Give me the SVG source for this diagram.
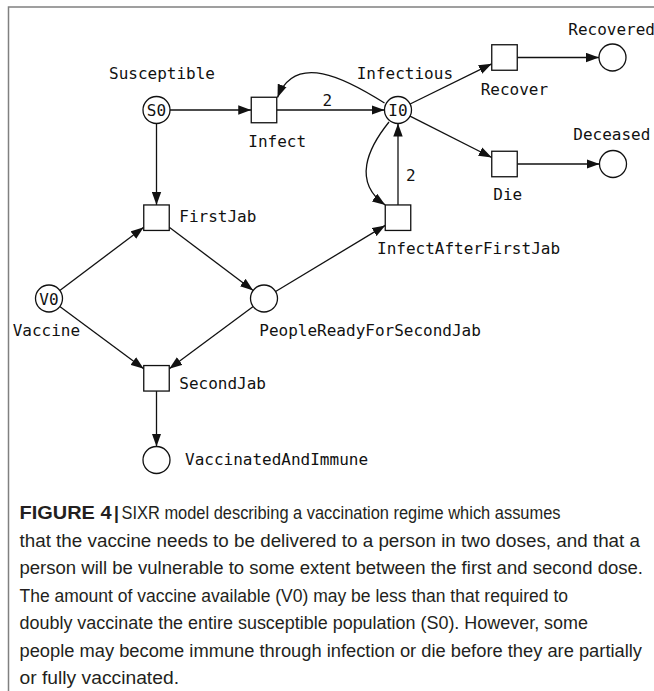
<svg xmlns="http://www.w3.org/2000/svg" width="654" height="691" viewBox="0 0 654 691">
<style>
.lbl{font-family:"DejaVu Sans Mono","Liberation Mono",monospace;font-size:16px;fill:#111}
.tok{font-family:"DejaVu Sans Mono","Liberation Mono",monospace;font-size:16px;fill:#111;text-anchor:middle}
.place{fill:#fff;stroke:#111;stroke-width:1.3}
.trans{fill:#fff;stroke:#111;stroke-width:1.3}
.arc{fill:none;stroke:#111;stroke-width:1.3;marker-end:url(#ah)}
.cap{font-family:"Liberation Sans",Arial,sans-serif;font-size:17.5px;fill:#231f20}
.capb{font-family:"Liberation Sans",Arial,sans-serif;font-size:17.5px;fill:#231f20;font-weight:bold}
</style>
<defs>
<marker id="ah" markerUnits="userSpaceOnUse" markerWidth="13" markerHeight="10" refX="13" refY="5" orient="auto">
<path d="M0,0.3 L13,5 L0,9.7 z" fill="#111"/>
</marker>
</defs>
<rect width="654" height="691" fill="#fff"/>
<path d="M8.5,691 V7 H654" fill="none" stroke="#808080" stroke-width="1.5"/>

<g id="connectors">
<path class="arc" d="M170,110 H251.25"/>
<path class="arc" d="M276.75,110 H384.5"/>
<path class="arc" d="M384.5,103 C345,78 295,52 277.5,97.5"/>
<path class="arc" d="M410.1,104 L491.75,63.8"/>
<path class="arc" d="M410,116.1 L491.75,157.5"/>
<path class="arc" d="M517.25,57.5 H599"/>
<path class="arc" d="M517.25,164 H599.5"/>
<path class="arc" d="M156.5,123.5 V205"/>
<path class="arc" d="M59.8,290.4 L143.75,227.3"/>
<path class="arc" d="M169.25,227.3 L253.2,290.4"/>
<path class="arc" d="M275.6,291.5 L385.25,225.4"/>
<path class="arc" d="M59.8,306.5 L143.75,368.8"/>
<path class="arc" d="M253.2,306.5 L169.25,368.8"/>
<path class="arc" d="M156.5,391.05 V446.5"/>
<path class="arc" d="M398,204.95 V123.5"/>
<path class="arc" d="M389,122 C368,148 352,182 385.25,205"/>
<text class="tok" x="327.3" y="106">2</text>
<text class="tok" x="410.7" y="180.7">2</text>
</g>

<g id="Susceptible">
<circle class="place" cx="156.5" cy="110" r="13.5"/>
<text class="tok" x="156.5" y="116">S0</text>
<text class="lbl" x="109" y="79">Susceptible</text>
</g>
<g id="Infect">
<rect class="trans" x="251.25" y="97.25" width="25.5" height="25.5"/>
<text class="lbl" x="248.3" y="146.7">Infect</text>
</g>
<g id="Infectious">
<circle class="place" cx="398" cy="110" r="13.5"/>
<text class="tok" x="398" y="116">I0</text>
<text class="lbl" x="356.7" y="78.5">Infectious</text>
</g>
<g id="Recover">
<rect class="trans" x="491.75" y="44.75" width="25.5" height="25.5"/>
<text class="lbl" x="480.7" y="95">Recover</text>
</g>
<g id="Recovered">
<circle class="place" cx="612.5" cy="57.5" r="13.5"/>
<text class="lbl" x="568.3" y="35">Recovered</text>
</g>
<g id="Die">
<rect class="trans" x="491.75" y="151.25" width="25.5" height="25.5"/>
<text class="lbl" x="493.3" y="200">Die</text>
</g>
<g id="Deceased">
<circle class="place" cx="613" cy="164" r="13.5"/>
<text class="lbl" x="573.3" y="140">Deceased</text>
</g>
<g id="FirstJab">
<rect class="trans" x="143.75" y="204.95" width="25.5" height="25.5"/>
<text class="lbl" x="179.3" y="221.7">FirstJab</text>
</g>
<g id="InfectAfterFirstJab">
<rect class="trans" x="385.25" y="204.95" width="25.5" height="25.5"/>
<text class="lbl" x="377" y="253.5">InfectAfterFirstJab</text>
</g>
<g id="Vaccine">
<circle class="place" cx="49" cy="298.5" r="13.5"/>
<text class="tok" x="49" y="304.5">V0</text>
<text class="lbl" x="12.7" y="335.7">Vaccine</text>
</g>
<g id="PeopleReadyForSecondJab">
<circle class="place" cx="264" cy="298.5" r="13.5"/>
<text class="lbl" x="259.3" y="336">PeopleReadyForSecondJab</text>
</g>
<g id="SecondJab">
<rect class="trans" x="143.75" y="365.55" width="25.5" height="25.5"/>
<text class="lbl" x="179.3" y="389.3">SecondJab</text>
</g>
<g id="VaccinatedAndImmune">
<circle class="place" cx="156.5" cy="460" r="13.5"/>
<text class="lbl" x="185" y="465">VaccinatedAndImmune</text>
</g>

<g id="caption">
<text class="capb" x="19.5" y="519" textLength="92" lengthAdjust="spacingAndGlyphs">FIGURE 4</text>
<text class="capb" x="114" y="519">|</text>
<text class="cap" x="121.5" y="519" textLength="439" lengthAdjust="spacingAndGlyphs">SIXR model describing a vaccination regime which assumes</text>
<text class="cap" x="19.5" y="546.5" textLength="620.5" lengthAdjust="spacingAndGlyphs">that the vaccine needs to be delivered to a person in two doses, and that a</text>
<text class="cap" x="19.5" y="574" textLength="623.5" lengthAdjust="spacingAndGlyphs">person will be vulnerable to some extent between the first and second dose.</text>
<text class="cap" x="19.5" y="601.5" textLength="548.5" lengthAdjust="spacingAndGlyphs">The amount of vaccine available (V0) may be less than that required to</text>
<text class="cap" x="19.5" y="629" textLength="568.5" lengthAdjust="spacingAndGlyphs">doubly vaccinate the entire susceptible population (S0). However, some</text>
<text class="cap" x="19.5" y="656.5" textLength="622.5" lengthAdjust="spacingAndGlyphs">people may become immune through infection or die before they are partially</text>
<text class="cap" x="19.5" y="684" textLength="159.5" lengthAdjust="spacingAndGlyphs">or fully vaccinated.</text>
</g>
</svg>
